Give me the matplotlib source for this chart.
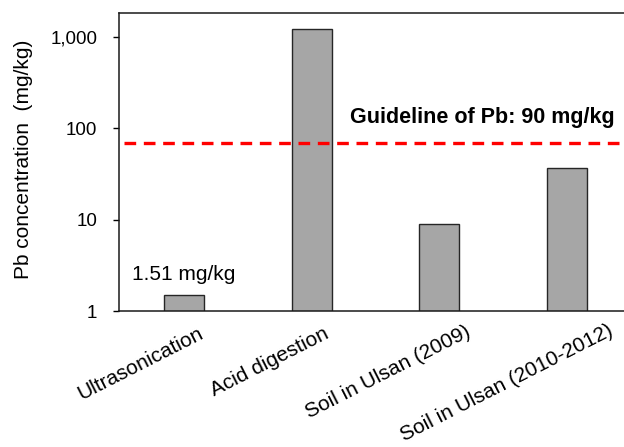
import math
import matplotlib
matplotlib.use("Agg")
import matplotlib.pyplot as plt
import matplotlib.transforms as mtransforms
from matplotlib.ticker import FixedLocator, FixedFormatter, NullLocator

categories = ["Ultrasonication", "Acid digestion", "Soil in Ulsan (2009)", "Soil in Ulsan (2010-2012)"]
values = [1.51, 1220, 9.0, 36.5]
guideline_value = 69.5
guideline_label = "Guideline of Pb: 90 mg/kg"
bar_label = "1.51 mg/kg"
yticks = [1, 10, 100, 1000]
yticklabels = ["1", "10", "100", "1,000"]

plt.rcParams['font.family'] = ['Liberation Sans', 'DejaVu Sans']

fig = plt.figure(figsize=(6.24, 4.47), dpi=100)
ax = fig.add_axes([119/624, 1-311/447, (632-119)/624, (311-13)/447])

x = list(range(len(categories)))
ax.bar(x, values, width=0.3125, color="#A6A6A6", edgecolor="#262626", linewidth=1.0, zorder=2)
ax.set_yscale("log")
ax.set_ylim(1, 1820)
ax.set_xlim(-0.508, 3.508)

ax.axhline(guideline_value, xmin=(124-119)/(632-119), xmax=1, color="#FF0000", linewidth=2.4,
           dashes=(3.5, 2.3), zorder=3)
fig.text(482/624, 1-118/447, guideline_label, fontsize=15.5, fontweight="bold",
         ha="center", va="center")
ax.annotate(bar_label, xy=(0, values[0]), xytext=(0, 14.5), textcoords="offset points",
            ha="center", va="center", fontsize=15)

ax.yaxis.set_major_locator(FixedLocator(yticks))
ax.yaxis.set_major_formatter(FixedFormatter(yticklabels))
ax.yaxis.set_minor_locator(NullLocator())
ax.tick_params(axis="y", direction="out", length=4.5, width=1.0, labelsize=13.5, pad=11)
ax.tick_params(axis="x", length=0, pad=0)
ax.set_xticks(x)
angle = 27
ax.set_xticklabels(categories, rotation=angle, ha="right", va="center", rotation_mode="anchor", fontsize=15)

renderer = fig.canvas.get_renderer()
ca = math.cos(math.radians(angle))
for lab in ax.get_xticklabels():
    w, h, d = renderer.get_text_width_height_descent(lab.get_text(), lab.get_fontproperties(), ismath=False)
    dx = -18.5 + 0.3 * w * ca
    dy = -(26.3 - 0.035 * w)
    off = mtransforms.ScaledTranslation(dx / 100, dy / 100, fig.dpi_scale_trans)
    lab.set_transform(lab.get_transform() + off)

ax.set_ylabel("Pb concentration  (mg/kg)", fontsize=15)
ax.yaxis.set_label_coords((33 - 119)/513, 0.51)

for s in ["top", "left", "bottom"]:
    ax.spines[s].set_linewidth(1.1)
    ax.spines[s].set_color("#1a1a1a")
ax.spines["right"].set_visible(False)

fig.savefig("out.png", dpi=100)
